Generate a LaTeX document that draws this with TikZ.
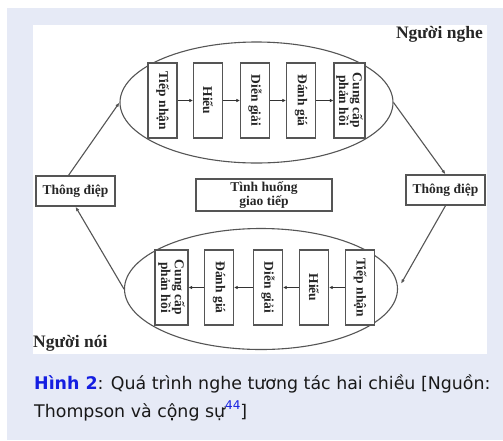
\documentclass[tikz,border=0pt]{standalone}
\usepackage{fontspec}
\setmainfont{Liberation Serif}
\newfontfamily\capfont{DejaVu Sans}
\usetikzlibrary{shapes.geometric,arrows.meta}
\definecolor{panelblue}{RGB}{230,234,246}
\definecolor{capblue}{RGB}{20,30,225}
\definecolor{linegray}{RGB}{85,85,85}
\tikzset{
  vbox/.style={draw=linegray,line width=1.3pt,fill=white,rotate=-90,minimum width=75pt,minimum height=29pt,inner sep=1pt,align=center,font=\bfseries\fontsize{13.5}{12.5}\selectfont,text=black!85},
  hbox/.style={draw=linegray,line width=1.3pt,fill=white,minimum width=79pt,minimum height=30pt,inner sep=1pt,align=center,font=\bfseries\fontsize{13.5}{13.5}\selectfont,text=black!85},
  ell/.style={draw=linegray,line width=1.1pt,ellipse,minimum width=273pt,minimum height=121pt,inner sep=0pt},
  arr/.style={draw=linegray,line width=1.1pt,-{Latex[length=4.5pt,width=3.5pt]}},
  sarr/.style={draw=black!80,line width=1.1pt,-{Latex[length=3.5pt,width=3.5pt]}},
  lbl/.style={font=\bfseries\fontsize{17.5}{17.5}\selectfont,text=black!85,inner sep=0pt}
}
\begin{document}
\begin{tikzpicture}[x=1pt,y=-1pt]
\useasboundingbox (0,0) rectangle (503,440);
\fill[white] (0,0) rectangle (503,440);
\fill[panelblue] (7,8) rectangle (503,440);
\fill[white] (33,25) rectangle (487,354);
% ellipses
\node[ell] (topell) at (256.5,102.5) {};
\node[ell] (botell) at (261,289) {};
% top boxes
\node[vbox] (t1) at (162.5,100.5) {Tiếp nhận};
\node[vbox] (t2) at (208,100.5) {Hiểu};
\node[vbox] (t3) at (255,100.5) {Diễn giải};
\node[vbox] (t4) at (301,100.5) {Đánh giá};
\node[vbox,minimum height=31pt] (t5) at (349.5,100.5) {Cung cấp\\phản hồi};
\draw[sarr] (t1) -- (t2);
\draw[sarr] (t2) -- (t3);
\draw[sarr] (t3) -- (t4);
\draw[sarr] (t4) -- (t5);
% bottom boxes
\node[vbox] (b1) at (360,287.5) {Tiếp nhận};
\node[vbox] (b2) at (314,287.5) {Hiểu};
\node[vbox] (b3) at (268,287.5) {Diễn giải};
\node[vbox] (b4) at (219,287.5) {Đánh giá};
\node[vbox,minimum height=33pt] (b5) at (171.5,287.5) {Cung cấp\\phản hồi};
\draw[sarr] (b1) -- (b2);
\draw[sarr] (b2) -- (b3);
\draw[sarr] (b3) -- (b4);
\draw[sarr] (b4) -- (b5);
% message boxes
\node[hbox] (lmsg) at (75.5,191) {Thông điệp};
\node[hbox] (rmsg) at (445.5,190) {Thông điệp};
\node[hbox,minimum width=136pt,minimum height=32pt,font=\bfseries\fontsize{13.5}{14}\selectfont] (sit) at (264,195) {Tình huống\\giao tiếp};
% connectors
\draw[arr] ([xshift=-7pt]lmsg.north) -- (topell.west);
\draw[arr] (topell.east) -- (rmsg.north);
\draw[arr,shorten >=6pt] (rmsg.south) -- (botell.east);
\draw[arr] (botell.west) -- (lmsg.south);
% labels
\node[lbl,anchor=base east] (listener) at (483,38) {Người nghe};
\node[lbl,anchor=base west] (speaker) at (33,347) {Người nói};
% caption
\node[anchor=base west,inner sep=0pt,align=left,font=\capfont\fontsize{17.4}{27.7}\selectfont,text=black!90] (cap) at (34,417) {{\bfseries\color{capblue}Hình 2}: Quá trình nghe tương tác hai chiều [Nguồn:\\Thompson và cộng sự\raisebox{7.5pt}{\fontsize{12}{12}\selectfont\color{capblue}44}]};
\end{tikzpicture}
\end{document}
